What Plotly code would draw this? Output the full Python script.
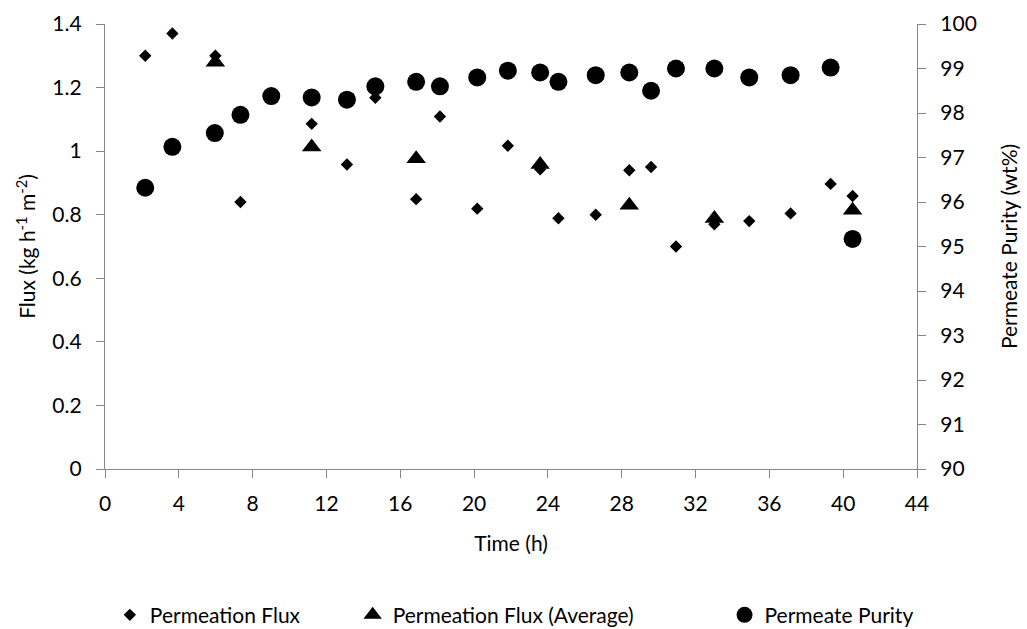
import plotly.graph_objects as go

# Permeation flux (kg h-1 m-2) per sample
flux_time = [2.18, 3.65, 5.98, 7.34, 11.2, 13.11, 14.65, 16.86, 18.15, 20.17, 21.83,
             23.58, 24.57, 26.59, 28.41, 29.59, 30.94, 33.02, 34.91, 37.15, 39.32, 40.51]
flux = [1.30, 1.37, 1.30, 0.84, 1.086, 0.958, 1.168, 0.849, 1.109, 0.819, 1.017,
        0.943, 0.789, 0.80, 0.94, 0.95, 0.70, 0.77, 0.78, 0.804, 0.897, 0.859]

# Averaged permeation flux
avg_time = [5.98, 11.2, 16.86, 23.58, 28.41, 33.02, 40.51]
avg_flux = [1.28, 1.013, 0.976, 0.958, 0.83, 0.788, 0.814]

# Permeate purity (wt%)
purity_time = [2.18, 3.65, 5.95, 7.34, 9.01, 11.2, 13.11, 14.65, 16.86, 18.15, 20.17,
               21.83, 23.58, 24.57, 26.59, 28.41, 29.59, 30.94, 33.02, 34.91, 37.15,
               39.32, 40.51]
purity = [96.32, 97.24, 97.55, 97.96, 98.38, 98.35, 98.30, 98.60, 98.70, 98.60, 98.80,
          98.95, 98.91, 98.70, 98.85, 98.91, 98.50, 99.00, 99.00, 98.80, 98.85,
          99.02, 95.17]

x_ticks = list(range(0, 45, 4))
left_ticks = [0, 0.2, 0.4, 0.6, 0.8, 1.0, 1.2, 1.4]
left_labels = ["0", "0.2", "0.4", "0.6", "0.8", "1", "1.2", "1.4"]
right_ticks = list(range(90, 101))

FONT = "Lato, 'Open Sans', sans-serif"
FS = 21
AXIS_COLOR = "#868686"

fig = go.Figure()
fig.add_trace(go.Scatter(
    x=flux_time, y=flux, mode="markers", name="Permeation Flux", legend="legend",
    marker=dict(symbol="diamond", size=9.5, color="black"),
))
fig.add_trace(go.Scatter(
    x=avg_time, y=avg_flux, mode="markers", name="Permeation Flux (Average)",
    legend="legend2",
    marker=dict(symbol="triangle-up", size=17, color="black"),
))
fig.add_trace(go.Scatter(
    x=purity_time, y=purity, mode="markers", name="Permeate Purity", yaxis="y2",
    legend="legend3",
    marker=dict(symbol="circle", size=18, color="black"),
))

axis_common = dict(
    showgrid=False, zeroline=False, showline=True, linecolor=AXIS_COLOR, linewidth=1.3,
    ticks="outside", ticklen=8, tickcolor=AXIS_COLOR, tickwidth=1.3,
    tickfont=dict(family=FONT, size=FS, color="black"),
)

legend_common = dict(orientation="h", yref="container", y=0.022, yanchor="middle",
                     xanchor="left", font=dict(family=FONT, size=FS), itemwidth=30,
                     bgcolor="rgba(0,0,0,0)")

fig.update_layout(
    width=1027, height=629,
    margin=dict(l=105, r=110, t=24, b=160, autoexpand=False),
    plot_bgcolor="white", paper_bgcolor="white",
    font=dict(family=FONT, size=FS, color="black"),
    xaxis=dict(range=[0, 44], tickvals=x_ticks, ticklabelstandoff=8,
               title=dict(text="Time (h)", font=dict(family=FONT, size=FS), standoff=21),
               **axis_common),
    yaxis=dict(range=[0, 1.4], tickvals=left_ticks, ticktext=left_labels,
               ticklabelstandoff=10,
               title=dict(text="Flux (kg h<sup>-1</sup> m<sup>-2</sup>)",
                          font=dict(family=FONT, size=FS), standoff=10),
               **axis_common),
    yaxis2=dict(range=[90, 100], tickvals=right_ticks, overlaying="y", side="right",
                ticklabelstandoff=10,
                title=dict(text="Permeate Purity (wt%)",
                           font=dict(family=FONT, size=FS), standoff=26),
                **axis_common),
    legend=dict(x=0.006, **legend_common),
    legend2=dict(x=0.305, **legend_common),
    legend3=dict(x=0.763, **legend_common),
    showlegend=True,
)

fig.write_html("out.html")
